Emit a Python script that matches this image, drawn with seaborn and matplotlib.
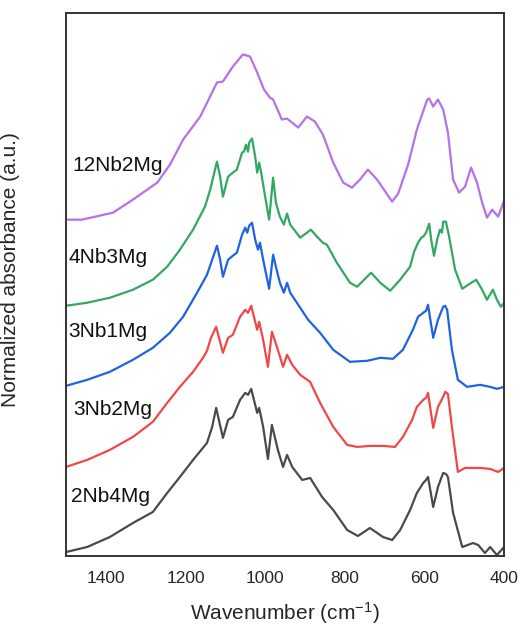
import numpy as np
import pandas as pd
import matplotlib
matplotlib.use('Agg')
import matplotlib.pyplot as plt
import seaborn as sns

# spectra (stacked, arbitrary units)
wn_12Nb2Mg = [1495, 1460, 1382, 1332, 1271, 1239, 1206, 1163, 1121, 1106, 1081, 1056, 1038, 1020, 1003, 988, 980,
              958, 945, 917, 895, 875, 855, 829, 804, 782, 762, 742, 719, 681, 666, 641, 619,
              593, 588, 578, 566, 553, 541, 528, 513, 498, 483, 468, 455, 443, 430, 415, 400]
ab_12Nb2Mg = [3.36, 3.36, 3.43, 3.56, 3.73, 3.91, 4.16, 4.39, 4.73, 4.74, 4.89, 5.01, 4.99, 4.83, 4.66, 4.58, 4.56,
              4.36, 4.37, 4.28, 4.39, 4.34, 4.21, 3.93, 3.73, 3.68, 3.76, 3.86, 3.76, 3.54, 3.62, 3.91, 4.26,
              4.56, 4.57, 4.49, 4.56, 4.46, 4.23, 3.76, 3.63, 3.69, 3.88, 3.73, 3.53, 3.38, 3.46, 3.39, 3.55]

wn_4Nb3Mg = [1500, 1447, 1390, 1332, 1282, 1246, 1214, 1181, 1151, 1138, 1121, 1113, 1106, 1093, 1081, 1071, 1058,
             1053, 1048, 1043, 1040, 1033, 1025, 1020, 1015, 1010, 1000, 990, 980, 973, 963, 953,
             945, 937, 912, 885, 870, 855, 845, 820, 787, 769, 734, 711, 686, 661, 636, 626, 616,
             608, 603, 596, 588, 583, 576, 568, 561, 556, 553, 546, 538, 523, 505, 490, 470, 455,
             443, 428, 418, 408, 400]
ab_4Nb3Mg = [2.50, 2.53, 2.58, 2.66, 2.76, 2.89, 3.06, 3.26, 3.49, 3.66, 3.94, 3.79, 3.59, 3.79, 3.83, 3.86, 4.03,
             4.04, 4.11, 4.04, 4.13, 4.17, 3.99, 3.83, 3.93, 3.83, 3.59, 3.36, 3.78, 3.53, 3.39, 3.31,
             3.42, 3.31, 3.18, 3.26, 3.19, 3.13, 3.11, 2.93, 2.73, 2.69, 2.83, 2.73, 2.65, 2.76, 2.89, 3.04, 3.13,
             3.18, 3.19, 3.23, 3.32, 3.16, 3.00, 3.16, 3.26, 3.23, 3.34, 3.34, 3.19, 2.86, 2.67, 2.71, 2.76, 2.66,
             2.56, 2.66, 2.56, 2.49, 2.53]

wn_3Nb1Mg = [1500, 1447, 1390, 1332, 1282, 1239, 1206, 1171, 1146, 1133, 1121, 1113, 1106, 1093, 1081, 1071, 1058,
             1050, 1045, 1040, 1033, 1025, 1018, 1013, 1005, 990, 980, 973, 963, 953, 945, 937,
             912, 892, 862, 829, 787, 744, 711, 679, 654, 629, 616, 603, 596, 591, 578, 566, 553,
             548, 543, 531, 516, 493, 460, 435, 418, 400]
ab_3Nb1Mg = [1.70, 1.76, 1.84, 1.96, 2.08, 2.23, 2.39, 2.63, 2.81, 2.96, 3.10, 2.96, 2.79, 2.96, 3.00, 3.03, 3.21,
             3.28, 3.23, 3.30, 3.33, 3.16, 3.06, 3.13, 2.96, 2.67, 3.01, 2.89, 2.73, 2.63, 2.73, 2.63,
             2.48, 2.36, 2.23, 2.06, 1.94, 1.95, 1.98, 1.97, 2.06, 2.26, 2.39, 2.43, 2.45, 2.51, 2.18, 2.36, 2.49,
             2.50, 2.46, 2.06, 1.76, 1.69, 1.71, 1.69, 1.67, 1.69]

wn_3Nb2Mg = [1500, 1447, 1390, 1332, 1282, 1246, 1214, 1181, 1156, 1146, 1136, 1123, 1106, 1093, 1081, 1063, 1050,
             1043, 1035, 1020, 1015, 1005, 993, 983, 968, 955, 945, 932, 912, 887, 862, 829, 794, 769, 737,
             704, 674, 654, 631, 619, 603, 596, 591, 578, 566, 553, 548, 541, 531, 516, 498, 460,
             435, 415, 400]
ab_3Nb2Mg = [0.89, 0.96, 1.06, 1.19, 1.34, 1.53, 1.69, 1.84, 1.98, 2.05, 2.18, 2.29, 2.03, 2.18, 2.21, 2.39, 2.46,
             2.43, 2.50, 2.26, 2.34, 2.16, 1.89, 2.24, 2.06, 1.89, 2.01, 1.91, 1.81, 1.74, 1.53, 1.29, 1.11, 1.09, 1.10,
             1.10, 1.09, 1.19, 1.36, 1.49, 1.56, 1.58, 1.63, 1.28, 1.49, 1.59, 1.64, 1.62, 1.29, 0.84, 0.88, 0.88,
             0.87, 0.84, 0.88]

wn_2Nb4Mg = [1500, 1447, 1390, 1332, 1282, 1246, 1214, 1181, 1146, 1133, 1123, 1106, 1093, 1081, 1063, 1050,
             1043, 1035, 1020, 1015, 1005, 993, 983, 968, 955, 945, 932, 907, 887, 857, 829, 794, 767, 737,
             704, 681, 661, 636, 619, 603, 596, 591, 578, 566, 553, 546, 541, 528, 505, 478, 465,
             448, 435, 418, 400]
ab_2Nb4Mg = [0.04, 0.09, 0.19, 0.33, 0.44, 0.63, 0.79, 0.96, 1.13, 1.29, 1.48, 1.18, 1.36, 1.39, 1.56, 1.63,
             1.61, 1.67, 1.43, 1.48, 1.29, 0.97, 1.31, 1.06, 0.89, 1.01, 0.89, 0.76, 0.78, 0.59, 0.46, 0.26, 0.20, 0.28,
             0.19, 0.16, 0.26, 0.46, 0.63, 0.73, 0.76, 0.79, 0.49, 0.69, 0.83, 0.82, 0.79, 0.43, 0.09, 0.13, 0.11,
             0.03, 0.09, 0.01, 0.09]

samples = ['12Nb2Mg', '4Nb3Mg', '3Nb1Mg', '3Nb2Mg', '2Nb4Mg']
wavenumbers = [wn_12Nb2Mg, wn_4Nb3Mg, wn_3Nb1Mg, wn_3Nb2Mg, wn_2Nb4Mg]
absorbances = [ab_12Nb2Mg, ab_4Nb3Mg, ab_3Nb1Mg, ab_3Nb2Mg, ab_2Nb4Mg]
colors = ['#b472e6', '#32a860', '#1e64e0', '#f04848', '#4a4a4a']

frames = []
for s, w, a in zip(samples, wavenumbers, absorbances):
    frames.append(pd.DataFrame({'wn': w, 'ab': a, 'sample': s}))
df = pd.concat(frames, ignore_index=True)

sns.set_style('white')
plt.rcParams['font.family'] = ['Liberation Sans', 'DejaVu Sans']
plt.rcParams['mathtext.default'] = 'regular'

fig = plt.figure(figsize=(5.24, 6.28), dpi=100)
ax = fig.add_axes([0.126, 0.1146, 0.836, 0.864])

sns.lineplot(data=df, x='wn', y='ab', hue='sample', palette=dict(zip(samples, colors)),
             sort=False, estimator=None, linewidth=1.6, legend=False, ax=ax)

# sample labels
label_x = [1485, 1495, 1495, 1482, 1487]
label_y = [3.90, 2.98, 2.24, 1.46, 0.59]
for s, lx, ly in zip(samples, label_x, label_y):
    ax.text(lx, ly, s, fontsize=15, va='center', ha='left', color='#111111')

ax.set_xlim(1500, 400)
ax.set_ylim(0, 5.42)
ax.set_xticks([1400, 1200, 1000, 800, 600, 400])
ax.set_yticks([])
ax.tick_params(axis='x', length=0, pad=11, labelsize=12.5)
ax.set_xlabel('Wavenumber (cm$^{-1}$)', fontsize=15, labelpad=10)
ax.set_ylabel('Normalized absorbance (a.u.)', fontsize=15)
ax.yaxis.set_label_coords(-0.105, 0.528)

for spine in ax.spines.values():
    spine.set_visible(True)
    spine.set_color('#333333')
    spine.set_linewidth(1.4)

fig.savefig('out.png', dpi=100)
